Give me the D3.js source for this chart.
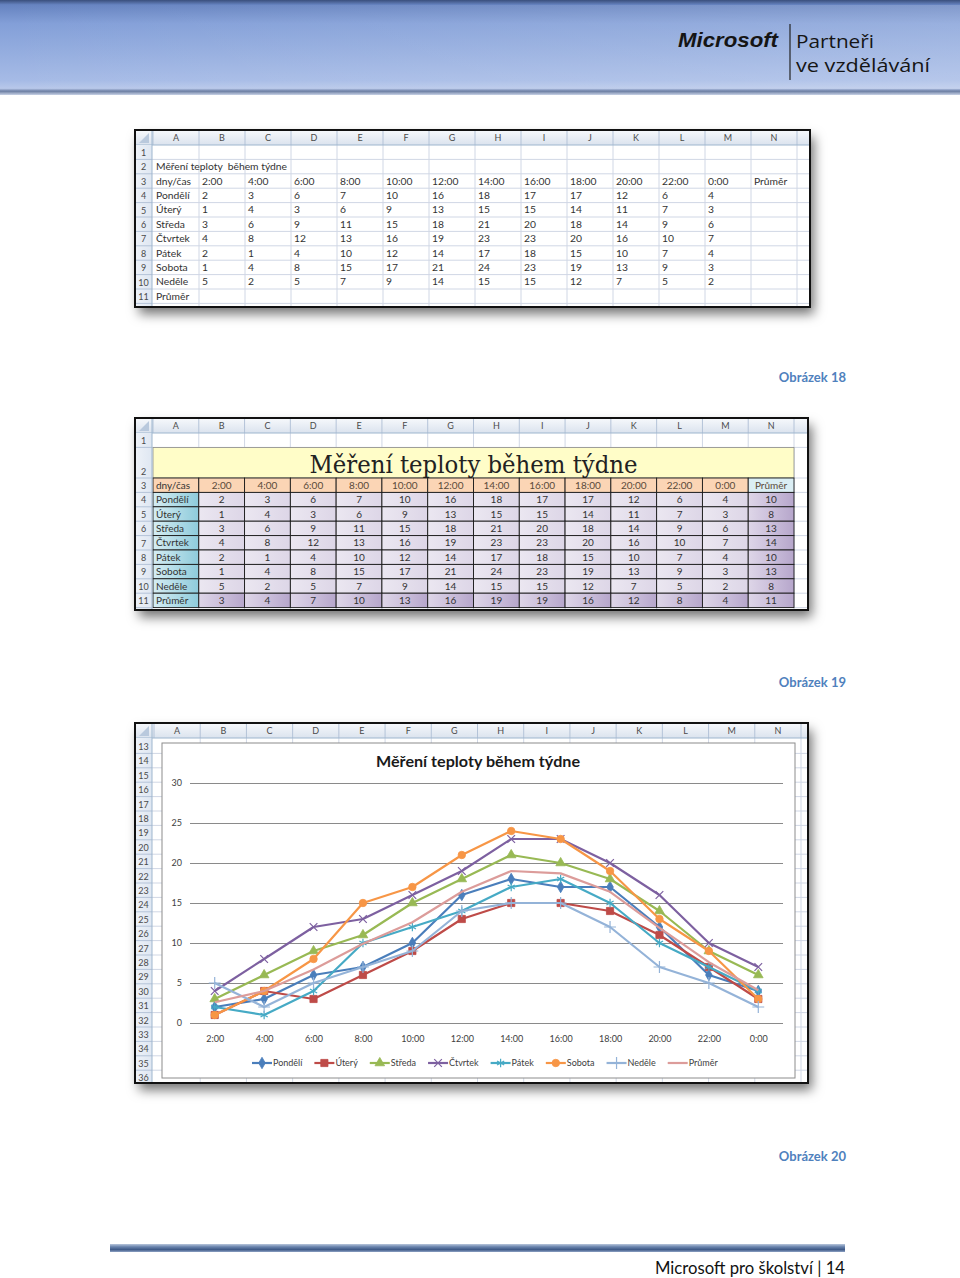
<!DOCTYPE html>
<html><head><meta charset="utf-8">
<script src="https://cdn.jsdelivr.net/npm/d3@7"></script>
<style>body{margin:0;background:#fff}svg{display:block}</style>
</head><body><svg id="c" width="960" height="1278"></svg>
<script>
// ---------- DATA ----------
const times = ["2:00","4:00","6:00","8:00","10:00","12:00","14:00","16:00","18:00","20:00","22:00","0:00"];
const days = ["Pondělí","Úterý","Středa","Čtvrtek","Pátek","Sobota","Neděle"];
const pondeli = [2,3,6,7,10,16,18,17,17,12,6,4];
const utery   = [1,4,3,6,9,13,15,15,14,11,7,3];
const streda  = [3,6,9,11,15,18,21,20,18,14,9,6];
const ctvrtek = [4,8,12,13,16,19,23,23,20,16,10,7];
const patek   = [2,1,4,10,12,14,17,18,15,10,7,4];
const sobota  = [1,4,8,15,17,21,24,23,19,13,9,3];
const nedele  = [5,2,5,7,9,14,15,15,12,7,5,2];
const rowAvg  = [10,8,13,14,10,13,8];
const colAvg  = [3,4,7,10,13,16,19,19,16,12,8,4];
const totalAvg = 11;
const chartAvg = [2.6,4,6.7,9.9,12.6,16.4,19,18.7,16.4,11.9,7.6,4.1];
const colLetters = ["A","B","C","D","E","F","G","H","I","J","K","L","M","N"];
const yTicks = [0,5,10,15,20,25,30];
const titleText = "Měření teploty během týdne";
const titleText1 = "Měření teploty  během týdne";
const headLabel = "dny/čas", avgLabel = "Průměr";
const captions = ["Obrázek 18","Obrázek 19","Obrázek 20"];
const seriesNames = ["Pondělí","Úterý","Středa","Čtvrtek","Pátek","Sobota","Neděle","Průměr"];
const seriesValues = [pondeli,utery,streda,ctvrtek,patek,sobota,nedele,chartAvg];
const seriesColors = ["#4a7ebb","#be4b48","#98b954","#7d60a0","#46aac5","#f79646","#94b3d8","#dc9c9a"];
const footerText = "Microsoft pro školství | 14";

// ---------- SETUP ----------
const svg = d3.select("#c");
const F = "Lato, 'Open Sans', sans-serif";
const defs = svg.append("defs");
function lg(id, stops, horiz){
  const g = defs.append("linearGradient").attr("id",id)
    .attr("x1",0).attr("y1",0).attr("x2",horiz?1:0).attr("y2",horiz?0:1);
  stops.forEach(s=>g.append("stop").attr("offset",s[0]).attr("stop-color",s[1]));
}
lg("pageHdr",[[0,"#3a4f7c"],[0.05,"#6683c0"],[0.25,"#839fd8"],[0.85,"#a6bbe6"],[0.93,"#b8c8ea"],[0.96,"#6c7ea3"],[1,"#c9d3e6"]]);
lg("pageHdrH",[[0,"rgba(255,255,255,0)"],[1,"rgba(255,255,255,0.18)"]],true);
lg("colHdr",[[0,"#f7f9fc"],[1,"#dbe3ee"]]);
lg("rowHdr",[[0,"#eef2f8"],[1,"#dfe7f2"]],true);
lg("teal",[[0,"#d6edf3"],[1,"#8ecbdb"]],true);
lg("purple",[[0,"#ded6e8"],[0.5,"#cbbfdb"],[1,"#b6a6cb"]],true);
lg("lav",[[0,"#ebe7f1"],[1,"#ddd6e7"]],true);
lg("foot",[[0,"#b8c6dc"],[0.35,"#6a84ad"],[0.7,"#3f5a88"],[1,"#8da2c4"]]);
const flt = defs.append("filter").attr("id","shadow").attr("x","-10%").attr("y","-10%").attr("width","125%").attr("height","130%");
flt.append("feDropShadow").attr("dx",4).attr("dy",7).attr("stdDeviation",6).attr("flood-color","#000").attr("flood-opacity",0.55);

// ---------- PAGE HEADER ----------
svg.append("rect").attr("x",0).attr("y",0).attr("width",960).attr("height",95).attr("fill","url(#pageHdr)");
svg.append("rect").attr("x",0).attr("y",5).attr("width",960).attr("height",84).attr("fill","url(#pageHdrH)");
svg.append("text").attr("x",678).attr("y",47).attr("font-family","'Liberation Sans', Arial, sans-serif")
  .attr("font-weight","bold").attr("font-style","italic").attr("font-size",20).attr("fill","#151515")
  .attr("textLength",100).attr("lengthAdjust","spacingAndGlyphs").text("Microsoft");
svg.append("line").attr("x1",790).attr("x2",790).attr("y1",24).attr("y2",80).attr("stroke","#222").attr("stroke-width",1.2);
svg.append("text").attr("x",796).attr("y",48).attr("font-family","'Open Sans', sans-serif").attr("font-size",18.5)
  .attr("fill","#151515").attr("textLength",78).attr("lengthAdjust","spacingAndGlyphs").text("Partneři");
svg.append("text").attr("x",796).attr("y",72).attr("font-family","'Open Sans', sans-serif").attr("font-size",18.5)
  .attr("fill","#151515").attr("textLength",134).attr("lengthAdjust","spacingAndGlyphs").text("ve vzdělávání");

// ---------- SHEET HELPER ----------
function drawSheet(cfg){
  const {x0,y0,x1,y1,hdr,rnW,cols,rows} = cfg;
  const g = svg.append("g");
  g.append("rect").attr("x",x0).attr("y",y0).attr("width",x1-x0).attr("height",y1-y0)
    .attr("fill","#fff").attr("filter","url(#shadow)");
  const clipId = "clip"+Math.round(y0);
  defs.append("clipPath").attr("id",clipId).append("rect").attr("x",x0).attr("y",y0).attr("width",x1-x0).attr("height",y1-y0);
  const inner = g.append("g").attr("clip-path",`url(#${clipId})`);
  const bw = cols.bandwidth();
  const bounds = colLetters.map(c=>cols(c)+bw);
  bounds.push(bounds[bounds.length-1]+bw);
  inner.selectAll("line.v").data(bounds).join("line").attr("class","v")
    .attr("x1",d=>d).attr("x2",d=>d).attr("y1",y0+hdr).attr("y2",y1).attr("stroke","#d0d7e5");
  inner.selectAll("line.h").data(rows).join("line").attr("class","h")
    .attr("x1",x0+rnW).attr("x2",x1).attr("y1",d=>d.top+d.h).attr("y2",d=>d.top+d.h).attr("stroke","#d0d7e5");
  const content = inner.append("g");
  inner.append("rect").attr("x",x0).attr("y",y0).attr("width",x1-x0).attr("height",hdr).attr("fill","url(#colHdr)");
  inner.selectAll("line.ch").data([cols("A")].concat(bounds)).join("line").attr("class","ch")
    .attr("x1",d=>d).attr("x2",d=>d).attr("y1",y0).attr("y2",y0+hdr).attr("stroke","#b4c3d8");
  inner.selectAll("text.ch").data(colLetters).join("text").attr("class","ch")
    .attr("x",d=>cols(d)+bw/2).attr("y",y0+hdr/2+3.5).attr("text-anchor","middle")
    .attr("font-family",F).attr("font-size",9).attr("fill","#4a4a4a").text(d=>d);
  inner.append("line").attr("x1",x0).attr("x2",x1).attr("y1",y0+hdr).attr("y2",y0+hdr).attr("stroke","#9eb6ce");
  inner.append("rect").attr("x",x0).attr("y",y0+hdr).attr("width",rnW).attr("height",y1-y0-hdr).attr("fill","url(#rowHdr)");
  inner.selectAll("line.rh").data(rows).join("line").attr("class","rh")
    .attr("x1",x0).attr("x2",x0+rnW).attr("y1",d=>d.top+d.h).attr("y2",d=>d.top+d.h).attr("stroke","#b4c3d8");
  inner.selectAll("text.rh").data(rows).join("text").attr("class","rh")
    .attr("x",x0+rnW/2).attr("y",d=>d.top+d.h-3.5).attr("text-anchor","middle")
    .attr("font-family",F).attr("font-size",9).attr("fill","#4a4a4a").text(d=>d.n);
  inner.append("line").attr("x1",x0+rnW).attr("x2",x0+rnW).attr("y1",y0).attr("y2",y1).attr("stroke","#9eb6ce");
  inner.append("path").attr("d",`M${x0+rnW-3},${y0+3}L${x0+rnW-3},${y0+hdr-2}L${x0+4},${y0+hdr-2}Z`).attr("fill","#b9c9dd");
  g.append("rect").attr("x",x0).attr("y",y0).attr("width",x1-x0).attr("height",y1-y0)
    .attr("fill","none").attr("stroke","#111").attr("stroke-width",2);
  return {content, rowMap: new Map(rows.map(r=>[r.n,r])), bw};
}

// ---------- SHEET 1 ----------
(function(){
  const cols = d3.scaleBand().domain(colLetters).range([153,797]);
  const rows = d3.range(1,13).map(n=>({n, top:145+(n-1)*14.4, h:14.4}));
  const s = drawSheet({x0:135,y0:130,x1:810,y1:307,hdr:15,rnW:17,cols,rows});
  const cells = [];
  cells.push({c:"A",r:2,t:titleText1});
  cells.push({c:"A",r:3,t:headLabel});
  times.forEach((t,i)=>cells.push({c:colLetters[i+1],r:3,t}));
  cells.push({c:"N",r:3,t:avgLabel});
  days.forEach((d,j)=>{
    cells.push({c:"A",r:4+j,t:d});
    seriesValues[j].forEach((v,i)=>cells.push({c:colLetters[i+1],r:4+j,t:String(v)}));
  });
  cells.push({c:"A",r:11,t:avgLabel});
  s.content.selectAll("text").data(cells).join("text")
    .attr("x",d=>cols(d.c)+3).attr("y",d=>s.rowMap.get(d.r).top+s.rowMap.get(d.r).h-3.6)
    .style("white-space","pre")
    .attr("font-family",F).attr("font-size",10.3).attr("fill","#333").text(d=>d.t);
})();

// ---------- SHEET 2 ----------
(function(){
  const cols = d3.scaleBand().domain(colLetters).range([153,794]);
  const rows = [{n:1,top:433,h:14.4},{n:2,top:447.4,h:30.6}]
    .concat(d3.range(3,12).map(n=>({n, top:478+(n-3)*14.4, h:14.4})));
  const s = drawSheet({x0:135,y0:418,x1:808,y1:610,hdr:15,rnW:17,cols,rows});
  const bw = s.bw, R = s.rowMap;
  const r2 = R.get(2);
  s.content.append("rect").attr("x",cols("A")).attr("y",r2.top).attr("width",cols("N")+bw-cols("A")).attr("height",r2.h)
    .attr("fill","#fffdc8").attr("stroke","#8a8a8a").attr("stroke-width",0.8);
  s.content.append("text").attr("x",(cols("A")+cols("N")+bw)/2).attr("y",r2.top+r2.h-5).attr("text-anchor","middle")
    .attr("font-family","'DejaVu Serif', 'Liberation Serif', serif").attr("font-size",24).attr("fill","#222")
    .attr("textLength",328).attr("lengthAdjust","spacingAndGlyphs").text(titleText);
  const cells = [];
  cells.push({c:"A",r:3,t:headLabel,f:"#fbd5b5",a:"start"});
  times.forEach((t,i)=>cells.push({c:colLetters[i+1],r:3,t,f:"#fbd5b5",a:"middle"}));
  cells.push({c:"N",r:3,t:avgLabel,f:"#dbeef4",a:"middle"});
  days.forEach((d,j)=>{
    cells.push({c:"A",r:4+j,t:d,f:"url(#teal)",a:"start"});
    seriesValues[j].forEach((v,i)=>cells.push({c:colLetters[i+1],r:4+j,t:String(v),f:"url(#lav)",a:"middle"}));
    cells.push({c:"N",r:4+j,t:String(rowAvg[j]),f:"url(#purple)",a:"middle"});
  });
  cells.push({c:"A",r:11,t:avgLabel,f:"url(#teal)",a:"start"});
  colAvg.forEach((v,i)=>cells.push({c:colLetters[i+1],r:11,t:String(v),f:"url(#purple)",a:"middle"}));
  cells.push({c:"N",r:11,t:String(totalAvg),f:"url(#purple)",a:"middle"});
  s.content.selectAll("rect.cell").data(cells).join("rect").attr("class","cell")
    .attr("x",d=>cols(d.c)).attr("y",d=>R.get(d.r).top).attr("width",bw).attr("height",d=>R.get(d.r).h)
    .attr("fill",d=>d.f).attr("stroke","#1a1a1a").attr("stroke-width",0.9);
  s.content.selectAll("text.cell").data(cells).join("text").attr("class","cell")
    .attr("x",d=>d.a==="start"?cols(d.c)+3:cols(d.c)+bw/2).attr("text-anchor",d=>d.a)
    .attr("y",d=>R.get(d.r).top+R.get(d.r).h-3.6)
    .attr("font-family",F).attr("font-size",10).attr("fill",d=>d.r===3&&d.c!=="A"?"#5a4a3a":"#333").text(d=>d.t);
})();

// ---------- SHEET 3 (CHART) ----------
(function(){
  const cols = d3.scaleBand().domain(colLetters).range([154,801]);
  const rows = d3.range(13,37).map(n=>({n, top:739+(n-13)*14.4, h:14.4}));
  const s = drawSheet({x0:135,y0:723,x1:808,y1:1083,hdr:15,rnW:17,cols,rows});
  const g = s.content;
  g.append("rect").attr("x",162).attr("y",743).attr("width",633).attr("height",335)
    .attr("fill","#fff").attr("stroke","#8c8c8c").attr("stroke-width",1);
  g.append("text").attr("x",478).attr("y",767).attr("text-anchor","middle").attr("font-family",F)
    .attr("font-weight","bold").attr("font-size",15).attr("fill","#1a1a1a")
    .attr("textLength",204).attr("lengthAdjust","spacingAndGlyphs").text(titleText);
  const x = d3.scalePoint().domain(times).range([190,783]).padding(0.5);
  const y = d3.scaleLinear().domain([0,30]).range([1023,783]);
  const ya = g.append("g").attr("transform","translate(190,0)")
    .call(d3.axisLeft(y).tickValues(yTicks).tickSize(-593).tickPadding(8));
  ya.select(".domain").remove();
  ya.selectAll("line").attr("stroke","#8a8a8a").attr("stroke-width",1);
  ya.selectAll("text").attr("font-family",F).attr("font-size",9).attr("fill","#404040");
  const xa = g.append("g").attr("transform","translate(0,1023)")
    .call(d3.axisBottom(x).tickSize(0).tickPadding(13));
  xa.select(".domain").remove();
  xa.selectAll("text").attr("font-family",F).attr("font-size",9).attr("fill","#404040");

  const symX = d3.symbolTimes || d3.symbolX || d3.symbolCross;
  const symA = d3.symbolAsterisk || d3.symbolCross;
  const symP = d3.symbolPlus || d3.symbolCross;
  const markers = [
    {t:d3.symbolDiamond,s:38,fill:true},
    {t:d3.symbolSquare,s:52,fill:true},
    {t:d3.symbolTriangle,s:40,fill:true},
    {t:symX,s:40,fill:false},
    {t:symA,s:48,fill:false},
    {t:d3.symbolCircle,s:44,fill:true},
    {t:symP,s:48,fill:false},
    null
  ];
  const line = d3.line().x((d,i)=>x(times[i])).y(d=>y(d));
  function drawMarker(sel, i){
    const m = markers[i];
    if(!m) return;
    sel.append("path").attr("d",d3.symbol().type(m.t).size(m.s)())
      .attr("fill",m.fill?seriesColors[i]:"none").attr("stroke",seriesColors[i]).attr("stroke-width",m.fill?0.8:1.2);
  }
  seriesValues.forEach((vals,i)=>{
    const sg = g.append("g");
    sg.append("path").datum(vals).attr("d",line).attr("fill","none").attr("stroke",seriesColors[i])
      .attr("stroke-width",2.2).attr("stroke-linejoin","round");
    sg.selectAll("g.m").data(vals).join("g").attr("class","m")
      .attr("transform",(d,k)=>`translate(${x(times[k])},${y(d)})`)
      .each(function(){ drawMarker(d3.select(this), i); });
  });
  let cx = 252;
  const ly = 1063;
  seriesNames.forEach((n,i)=>{
    const lgG = g.append("g");
    lgG.append("line").attr("x1",cx).attr("x2",cx+20).attr("y1",ly).attr("y2",ly)
      .attr("stroke",seriesColors[i]).attr("stroke-width",2.2);
    const mg = lgG.append("g").attr("transform",`translate(${cx+10},${ly})`);
    drawMarker(mg,i);
    const t = lgG.append("text").attr("x",cx+21).attr("y",ly+3.2).attr("font-family",F).attr("font-size",9)
      .attr("fill","#404040").text(n);
    cx += 21 + t.node().getComputedTextLength() + 12;
  });
})();

// ---------- CAPTIONS ----------
svg.selectAll("text.cap").data(captions).join("text").attr("class","cap")
  .attr("x",846).attr("y",(d,i)=>[382,687,1161][i]).attr("text-anchor","end")
  .attr("font-family",F).attr("font-weight","bold").attr("font-size",13).attr("fill","#4f81bd").text(d=>d);

// ---------- FOOTER ----------
svg.append("rect").attr("x",110).attr("y",1244).attr("width",735).attr("height",8).attr("fill","url(#foot)");
svg.append("text").attr("x",845).attr("y",1274).attr("text-anchor","end").attr("font-family",F)
  .attr("font-size",16.5).attr("fill","#111").attr("textLength",190).attr("lengthAdjust","spacingAndGlyphs").text(footerText);
</script></body></html>
